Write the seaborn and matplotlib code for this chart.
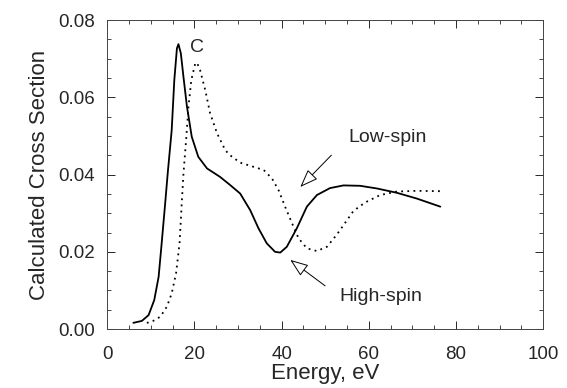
import matplotlib
matplotlib.use("Agg")
import matplotlib.pyplot as plt
import seaborn as sns
import pandas as pd
from matplotlib.ticker import MultipleLocator

# High-spin (solid) curve
hs_energy = [6.0, 7.95, 9.5, 10.8, 11.8, 12.5, 13.3, 13.9, 14.8, 15.4, 16.0, 16.35, 16.9,
             17.5, 18.3, 19.4, 20.9, 22.9, 25.9, 28.2, 30.5, 32.8, 34.7, 36.6, 38.5, 39.7, 41.2,
             43.5, 45.8, 48.1, 51.1, 54.2, 58.0, 61.9, 66.4, 71.0, 76.4]
hs_sigma = [0.0016, 0.0021, 0.0036, 0.0075, 0.0135, 0.0222, 0.0325, 0.0405, 0.0515,
            0.0645, 0.0727, 0.0738, 0.0714, 0.0653, 0.0576, 0.0498, 0.0446, 0.0416, 0.0394,
            0.0373, 0.0351, 0.0308, 0.0261, 0.0222, 0.0200, 0.0198, 0.0213, 0.0261, 0.0317,
            0.0347, 0.0365, 0.0372, 0.0371, 0.0364, 0.0353, 0.0338, 0.0317]

# Low-spin (dotted) curve
ls_energy = [9.1, 10.25, 12.2, 13.7, 14.8, 15.8, 16.6, 17.1, 17.5, 18.1, 18.65, 19.3, 20.2, 20.6,
             21.3, 22.5, 23.6, 25.2, 27.1, 28.2, 30.5, 33.6, 35.9, 37.8, 39.3, 40.8, 42.4, 43.9,
             45.8, 48.1, 50.4, 52.7, 56.5, 59.2, 62.6, 66.4, 71.0, 76.4]
ls_sigma = [0.0016, 0.0019, 0.0032, 0.0058, 0.0092, 0.0144, 0.0222, 0.0325, 0.0403, 0.0489,
            0.0576, 0.0645, 0.0688, 0.0690, 0.0671, 0.0619, 0.0559, 0.0507, 0.0463, 0.0450,
            0.0431, 0.0420, 0.0412, 0.0390, 0.0360, 0.0317, 0.0274, 0.0235, 0.0209, 0.0202,
            0.0213, 0.0245, 0.0306, 0.0328, 0.0347, 0.0356, 0.0358, 0.0357]

x_ticks = [0, 20, 40, 60, 80, 100]
y_ticks = [0.00, 0.02, 0.04, 0.06, 0.08]

sns.set_style("ticks")
plt.rcParams['font.family'] = ['Liberation Sans', 'DejaVu Sans']

fig = plt.figure(figsize=(5.67, 3.88), dpi=100)
ax = fig.add_axes([0.189, 0.152, 0.769, 0.796])

hs = pd.DataFrame({"Energy": hs_energy, "Sigma": hs_sigma})
ls = pd.DataFrame({"Energy": ls_energy, "Sigma": ls_sigma})
sns.lineplot(data=hs, x="Energy", y="Sigma", ax=ax, color="black", linewidth=1.3, sort=False)
sns.lineplot(data=ls, x="Energy", y="Sigma", ax=ax, color="black", linewidth=1.3, sort=False,
             linestyle=(0, (1.0, 2.4)))

ax.set_xlim(0, 100)
ax.set_ylim(0, 0.08)
ax.set_xticks(x_ticks)
ax.set_yticks(y_ticks)
ax.set_xticklabels([str(t) for t in x_ticks])
ax.set_yticklabels([f"{t:.2f}" for t in y_ticks])
ax.xaxis.set_minor_locator(MultipleLocator(5))
ax.yaxis.set_minor_locator(MultipleLocator(0.005))
ax.tick_params(which="both", direction="in", top=True, right=True, labelsize=13.5)
ax.tick_params(axis="x", pad=12)
ax.tick_params(axis="y", pad=9)
ax.tick_params(which="major", length=6, width=0.7)
ax.tick_params(which="minor", length=3, width=0.6)
for s in ax.spines.values():
    s.set_linewidth(0.7)
    s.set_color("#444444")

ax.set_xlabel("Energy, eV", fontsize=16, labelpad=0)
ax.set_ylabel("Calculated Cross Section", fontsize=16, labelpad=6)

ax.text(20.7, 0.0728, "C", fontsize=14, ha="center", va="center")
ax.annotate("Low-spin", xy=(44.3, 0.0368), xytext=(55.3, 0.0495), fontsize=14,
            ha="left", va="center",
            arrowprops=dict(arrowstyle="-|>,head_length=0.8,head_width=0.3", fc="white",
                            ec="black", lw=0.7, shrinkA=14, shrinkB=0, relpos=(0, 0.5)))
ax.annotate("High-spin", xy=(42.0, 0.0179), xytext=(53.3, 0.0084), fontsize=14,
            ha="left", va="center",
            arrowprops=dict(arrowstyle="-|>,head_length=0.8,head_width=0.3", fc="white",
                            ec="black", lw=0.7, shrinkA=10, shrinkB=0, relpos=(0, 0.5)))

fig.savefig("out.png", dpi=100)
